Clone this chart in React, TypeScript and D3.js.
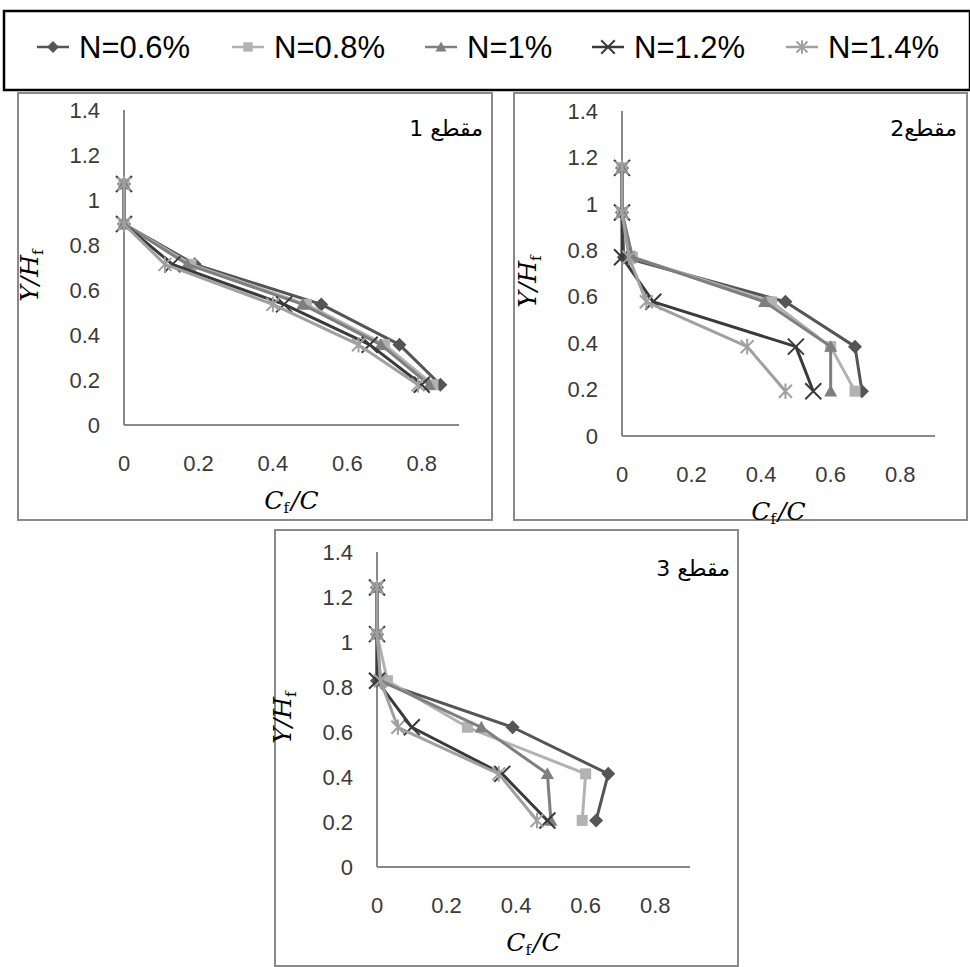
import React from "react";
import * as d3 from "d3";

const seriesNames = ["N=0.6%", "N=0.8%", "N=1%", "N=1.2%", "N=1.4%"];
const seriesColors = ["#555555", "#b2b2b2", "#7f7f7f", "#3a3a3a", "#a0a0a0"];
const seriesMarkers = ["diamond", "square", "triangle", "x", "star"];

const yTickValues = [0, 0.2, 0.4, 0.6, 0.8, 1, 1.2, 1.4];
const yTickLabels = ["0", "0.2", "0.4", "0.6", "0.8", "1", "1.2", "1.4"];
const xTickValues = [0, 0.2, 0.4, 0.6, 0.8];
const xTickLabels = ["0", "0.2", "0.4", "0.6", "0.8"];

const panelTitles = ["مقطع 1", "مقطع2", "مقطع 3"];

// Section 1
const p1Y = [1.071, 0.893, 0.714, 0.536, 0.357, 0.179];
const p1X06 = [0, 0, 0.19, 0.53, 0.74, 0.85];
const p1X08 = [0, 0, 0.18, 0.49, 0.70, 0.83];
const p1X10 = [0, 0, 0.17, 0.48, 0.69, 0.82];
const p1X12 = [0, 0, 0.13, 0.43, 0.66, 0.80];
const p1X14 = [0, 0, 0.11, 0.40, 0.63, 0.79];

// Section 2
const p2Y = [1.155, 0.963, 0.77, 0.578, 0.385, 0.193];
const p2X06 = [0, 0, 0.005, 0.47, 0.67, 0.69];
const p2X08 = [0, 0, 0.03, 0.43, 0.60, 0.67];
const p2X10 = [0, 0, 0.03, 0.41, 0.60, 0.60];
const p2X12 = [0, 0, 0.0, 0.09, 0.50, 0.55];
const p2X14 = [0, 0, 0.02, 0.07, 0.36, 0.47];

// Section 3
const p3Y = [1.242, 1.035, 0.828, 0.621, 0.414, 0.207];
const p3X06 = [0, 0, 0, 0.39, 0.665, 0.63];
const p3X08 = [0, 0, 0.03, 0.26, 0.60, 0.59];
const p3X10 = [0, 0, 0.01, 0.30, 0.49, 0.50];
const p3X12 = [0, 0, 0, 0.10, 0.36, 0.49];
const p3X14 = [0, 0, 0.01, 0.06, 0.35, 0.46];

const panelsData = [
  { y: p1Y, xs: [p1X06, p1X08, p1X10, p1X12, p1X14] },
  { y: p2Y, xs: [p2X06, p2X08, p2X10, p2X12, p2X14] },
  { y: p3Y, xs: [p3X06, p3X08, p3X10, p3X12, p3X14] },
];

const layouts = [
  { frame: [18, 93, 492, 520], x0: 124, x09: 459, y0: 425, y14: 110, title: [483, 136] },
  { frame: [514, 93, 967, 520], x0: 622, x09: 935, y0: 436, y14: 111, title: [957, 136] },
  { frame: [275, 530, 738, 966], x0: 377, x09: 690, y0: 867, y14: 552, title: [730, 576] },
];

function Marker({ type, x, y, color, legend }: any) {
  const k = legend ? 0.85 : 1;
  if (type === "diamond") {
    const r = 7 * k;
    return <path d={`M${x},${y - r}L${x + r},${y}L${x},${y + r}L${x - r},${y}Z`} fill={color} />;
  }
  if (type === "square") {
    const r = 5.5 * k;
    return <rect x={x - r} y={y - r} width={2 * r} height={2 * r} fill={color} />;
  }
  if (type === "triangle") {
    const r = 6.5 * k;
    return <path d={`M${x},${y - r}L${x + r},${y + r * 0.8}L${x - r},${y + r * 0.8}Z`} fill={color} />;
  }
  if (type === "x") {
    const r = 8 * k;
    return (
      <path d={`M${x - r},${y - r}L${x + r},${y + r}M${x - r},${y + r}L${x + r},${y - r}`} stroke={color} strokeWidth={2} fill="none" />
    );
  }
  const r = 6.5 * k;
  return (
    <path
      d={`M${x - r},${y - r}L${x + r},${y + r}M${x - r},${y + r}L${x + r},${y - r}M${x},${y - r * 1.2}L${x},${y + r * 1.2}`}
      stroke={color}
      strokeWidth={2}
      fill="none"
    />
  );
}

function Panel({ idx }: any) {
  const L = layouts[idx];
  const D = panelsData[idx];
  const xs = d3.scaleLinear().domain([0, 0.9]).range([L.x0, L.x09]);
  const ys = d3.scaleLinear().domain([0, 1.4]).range([L.y0, L.y14]);
  const line = d3
    .line<[number, number]>()
    .x((d) => xs(d[0]))
    .y((d) => ys(d[1]));
  const [fx0, fy0, fx1, fy1] = L.frame;
  const tickFont = { fontFamily: "'Liberation Sans', Arial, sans-serif", fontSize: 22, fill: "#3a3a3a" };
  const midY = (L.y0 + L.y14) / 2 + 8;
  const midX = (L.x0 + L.x09) / 2;
  return (
    <g>
      <rect x={fx0} y={fy0} width={fx1 - fx0} height={fy1 - fy0} fill="#fff" stroke="#8a8a8a" strokeWidth={2} />
      <line x1={L.x0} x2={L.x09} y1={L.y0} y2={L.y0} stroke="#888" strokeWidth={2} />
      <line x1={L.x0} x2={L.x0} y1={L.y0} y2={L.y14} stroke="#888" strokeWidth={2} />
      {yTickValues.map((v, i) => (
        <text key={"y" + i} x={L.x0 - 24} y={ys(v)} dy="0.35em" textAnchor="end" {...tickFont}>
          {yTickLabels[i]}
        </text>
      ))}
      {xTickValues.map((v, i) => (
        <text key={"x" + i} x={xs(v)} y={L.y0 + 38} dy="0.35em" textAnchor="middle" {...tickFont}>
          {xTickLabels[i]}
        </text>
      ))}
      <text
        transform={`translate(${L.x0 - 86},${midY}) rotate(-90)`}
        textAnchor="middle"
        fontFamily="'DejaVu Serif', serif"
        fontSize={25}
        fill="#000"
      >
        <tspan fontStyle="italic">Y/H</tspan>
        <tspan fontSize={15} dy={5}>f</tspan>
      </text>
      <text
        x={midX}
        y={L.y0 + 84}
        textAnchor="middle"
        fontFamily="'DejaVu Serif', serif"
        fontSize={25}
        fill="#000"
      >
        <tspan fontStyle="italic">C</tspan>
        <tspan fontSize={15} dy={4}>f</tspan>
        <tspan fontStyle="italic" dy={-4} dx={2}>/C</tspan>
      </text>
      <text x={L.title[0]} y={L.title[1]} textAnchor="end" fontFamily="'DejaVu Sans', sans-serif" fontSize={22} fill="#000">
        {panelTitles[idx]}
      </text>
      {D.xs.map((arr, s) => {
        const pts: [number, number][] = arr.map((xv, i) => [xv, D.y[i]]);
        return (
          <g key={"s" + s}>
            <path d={line(pts) || ""} fill="none" stroke={seriesColors[s]} strokeWidth={3} strokeLinejoin="round" />
            {pts.map((p, i) => (
              <Marker key={i} type={seriesMarkers[s]} x={xs(p[0])} y={ys(p[1])} color={seriesColors[s]} />
            ))}
          </g>
        );
      })}
    </g>
  );
}

const legendMarkerX = [53, 248, 441, 608, 802];

export default function App() {
  return (
    <svg width={970} height={967} style={{ position: "absolute", left: 0, top: 0, background: "#fff" }}>
      <rect x={0} y={0} width={970} height={967} fill="#fff" />
      <rect x={4} y={11} width={966} height={79} fill="#fff" stroke="#000" strokeWidth={2.5} />
      {seriesNames.map((name, i) => (
        <g key={name}>
          <line x1={legendMarkerX[i] - 16} x2={legendMarkerX[i] + 16} y1={47} y2={47} stroke={seriesColors[i]} strokeWidth={2.5} />
          <Marker type={seriesMarkers[i]} x={legendMarkerX[i]} y={47} color={seriesColors[i]} legend />
          <text x={legendMarkerX[i] + 26} y={58} fontFamily="'Liberation Sans', Arial, sans-serif" fontSize={31} fill="#000">
            {name}
          </text>
        </g>
      ))}
      {[0, 1, 2].map((i) => (
        <Panel key={i} idx={i} />
      ))}
    </svg>
  );
}
